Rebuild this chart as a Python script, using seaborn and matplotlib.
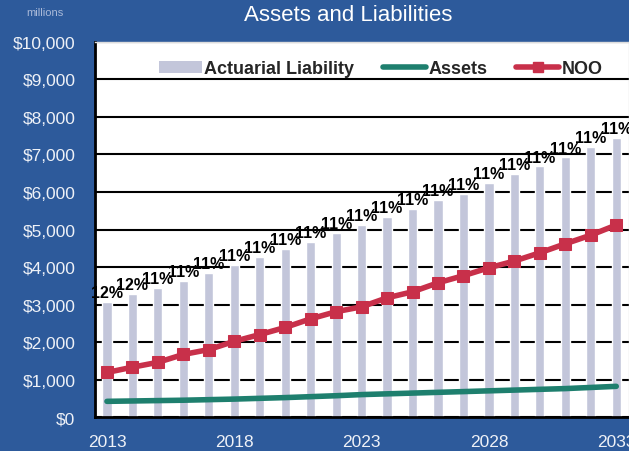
import matplotlib
matplotlib.use("Agg")
import matplotlib.pyplot as plt
import seaborn as sns
from matplotlib.patches import Patch
from matplotlib.lines import Line2D

# data (millions)
years = list(range(2013, 2034))
liability = [3080, 3290, 3450, 3630, 3850, 4060, 4270, 4480, 4670, 4900, 5120,
             5330, 5540, 5780, 5940, 6230, 6470, 6680, 6920, 7190, 7430]
assets = [420, 430, 440, 450, 465, 480, 500, 520, 545, 570, 600,
          620, 640, 660, 680, 700, 720, 740, 760, 790, 820]
noo = [1190, 1330, 1460, 1670, 1800, 2020, 2200, 2390, 2620, 2810, 2940,
       3180, 3340, 3580, 3770, 3980, 4160, 4380, 4620, 4850, 5120]
pct_labels = ['12%', '12%'] + ['11%'] * 19
xtick_years = [2013, 2018, 2023, 2028, 2033]

bg = '#2d5a9b'
bar_color = '#c3c6da'
teal = '#1e7f6e'
red = '#c8304a'

sns.set_theme(style="white")
plt.rcParams['font.family'] = ['Liberation Sans', 'DejaVu Sans']

fig = plt.figure(figsize=(6.29, 4.52), dpi=100, facecolor=bg)
ax = fig.add_axes([0.151, 0.075, 0.849, 0.83])
ax.set_facecolor('white')

sns.barplot(x=years, y=liability, native_scale=True, width=0.36,
            color=bar_color, saturation=1, ax=ax, zorder=2)
sns.lineplot(x=years, y=assets, color=teal, linewidth=4, ax=ax, zorder=3)
sns.lineplot(x=years, y=noo, color=red, linewidth=4, marker='s',
             markersize=8, markeredgecolor=red, ax=ax, zorder=4)

# percent labels above bars
for yr, val, lab in zip(years, liability, pct_labels):
    ax.text(yr, val + 50, lab, ha='center', va='bottom', fontsize=11.5,
            fontweight='heavy', color='black', zorder=5)

ax.set_xlim(2012.53, 2033.5)
ax.set_ylim(0, 10000)
ax.set_yticks(range(0, 10001, 1000))
ax.set_yticklabels(['$0'] + [f'${v:,}' for v in range(1000, 10001, 1000)])
ax.set_xticks(xtick_years)
ax.set_xticklabels([str(y) for y in xtick_years])
ax.tick_params(axis='both', length=0, colors='#eef1f7', labelsize=12.5)
ax.tick_params(axis='y', pad=14)
ax.tick_params(axis='x', pad=12)

ax.set_axisbelow(True)
ax.yaxis.grid(True, color='black', linewidth=1.5)
ax.xaxis.grid(False)
for side in ['left', 'bottom']:
    ax.spines[side].set_color('black')
    ax.spines[side].set_linewidth(2)
for side in ['top', 'right']:
    ax.spines[side].set_color('#dddddd')
    ax.spines[side].set_linewidth(1)

handles = [Patch(facecolor=bar_color, edgecolor='none'),
           Line2D([], [], color=teal, linewidth=4),
           Line2D([], [], color=red, linewidth=4, marker='s', markersize=7)]
leg = ax.legend(handles, ['Actuarial Liability', 'Assets', 'NOO'],
                loc='center', bbox_to_anchor=(0.535, 0.928), ncol=3,
                frameon=False, handlelength=2.4, handletextpad=0.1,
                columnspacing=1.6, prop={'weight': 'bold', 'size': 13})

fig.text(0.553, 0.965, 'Assets and Liabilities', ha='center', va='center',
         color='white', fontsize=16)
fig.text(0.072, 0.972, 'millions', ha='center', va='center',
         color='#a9b9d8', fontsize=8)

ax.set_xlabel('')
ax.set_ylabel('')
fig.savefig('out.png', dpi=100, facecolor=bg)
